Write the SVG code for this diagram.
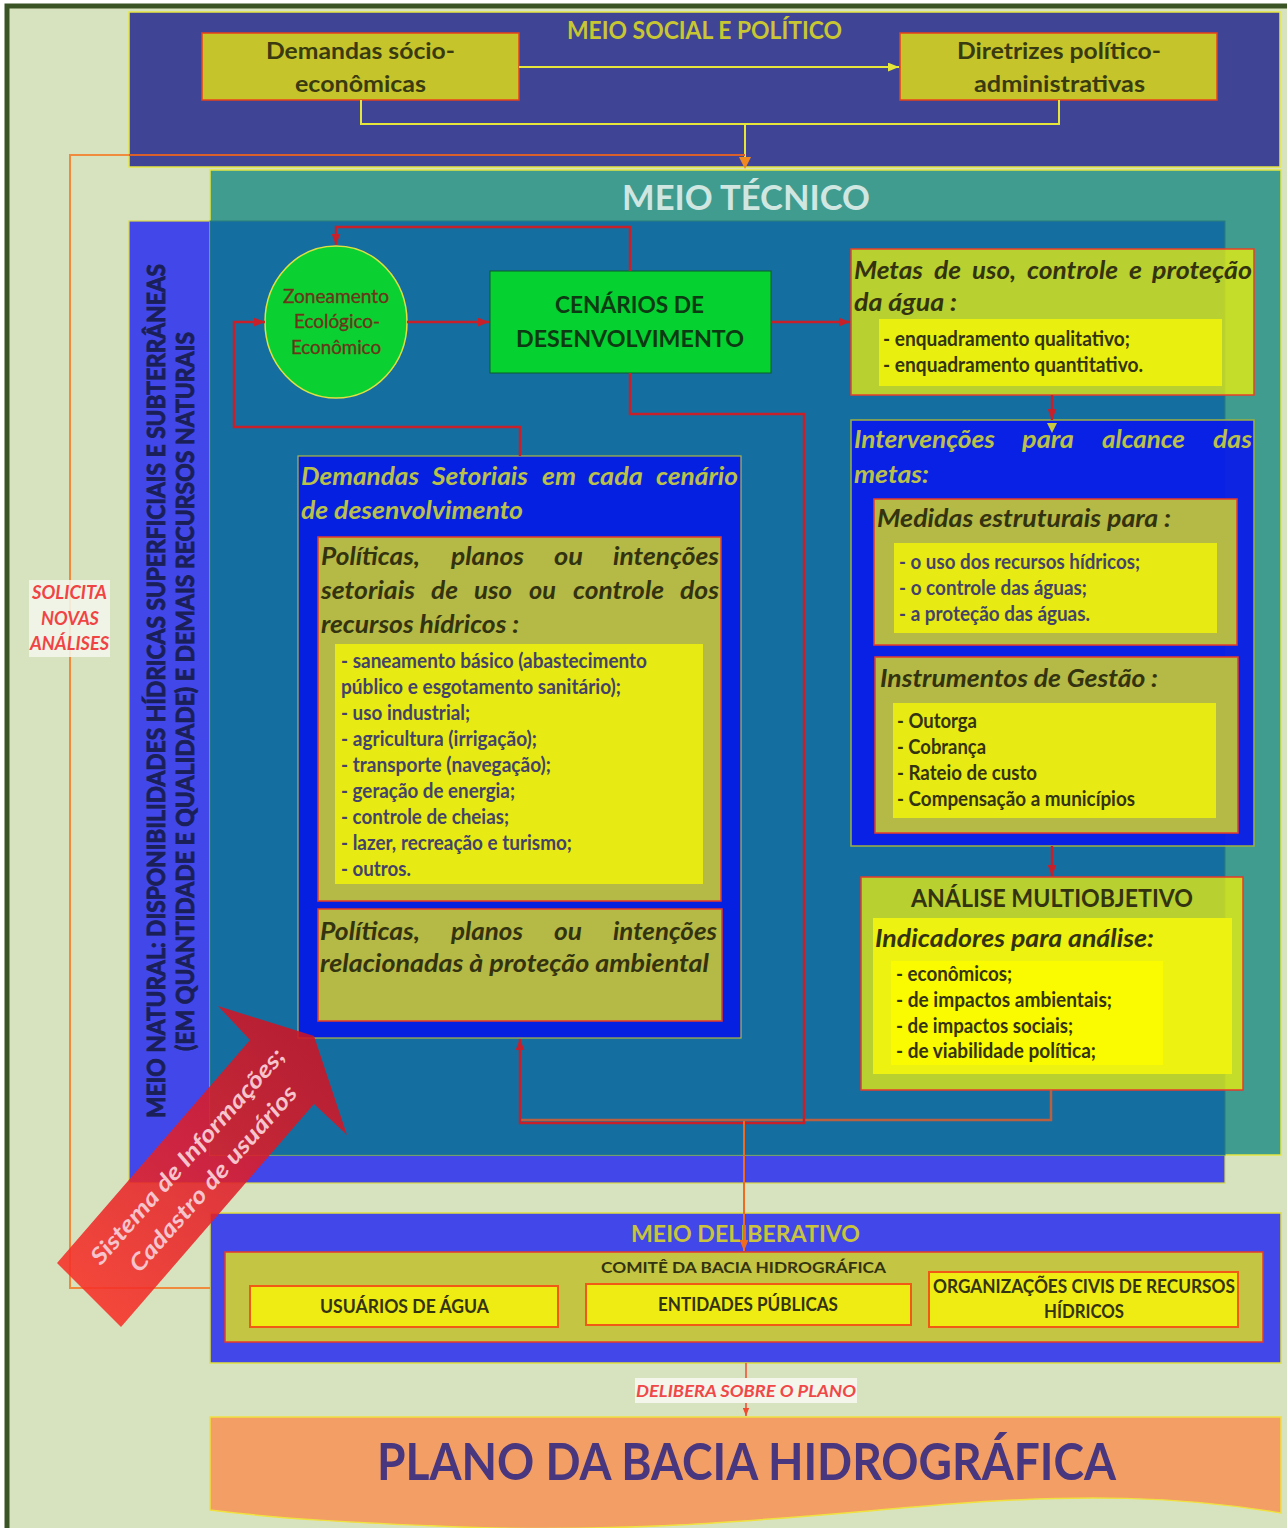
<svg xmlns="http://www.w3.org/2000/svg" width="1287" height="1528" viewBox="0 0 1287 1528">
<defs>
<style>
text{font-family:Lato,'Open Sans','Liberation Sans',sans-serif;}
.b{font-weight:700}
.i{font-style:italic}
.dk{fill:#33330f}
.sl{fill:#43436a}
.ttl{font-size:25px;font-weight:700;font-style:italic}
.li{font-size:20px;font-weight:700}
.yt{fill:#bac04a}
.ol{fill:#b5b945;stroke:#e83a2a;stroke-width:1.5}
.yl{fill:#e8ea14}
.red{stroke:#c8202a;stroke-width:2.5;fill:none}
.vt{font-size:24px;font-weight:700;fill:#1a1f58;stroke:#1a1f58;stroke-width:0.9}
</style>
<marker id="mr" viewBox="0 0 10 8" refX="10" refY="4" markerWidth="11" markerHeight="9" markerUnits="userSpaceOnUse" orient="auto"><path d="M0,0L10,4L0,8z" fill="#c8202a"/></marker>
<marker id="my" viewBox="0 0 10 8" refX="10" refY="4" markerWidth="11" markerHeight="9" markerUnits="userSpaceOnUse" orient="auto"><path d="M0,0L10,4L0,8z" fill="#e6e63a"/></marker>
<marker id="mo" viewBox="0 0 10 8" refX="10" refY="4" markerWidth="11" markerHeight="9" markerUnits="userSpaceOnUse" orient="auto"><path d="M0,0L10,4L0,8z" fill="#f06a20"/></marker>
<marker id="mo2" viewBox="0 0 10 8" refX="10" refY="4" markerWidth="8" markerHeight="7" markerUnits="userSpaceOnUse" orient="auto"><path d="M0,0L10,4L0,8z" fill="#f04a30"/></marker>
<linearGradient id="ga" gradientUnits="userSpaceOnUse" x1="314" y1="1036" x2="90" y2="1295">
<stop offset="0" stop-color="#cd1323"/>
<stop offset="0.5" stop-color="#e0202a"/>
<stop offset="1" stop-color="#f73128"/>
</linearGradient>
</defs>

<rect x="7" y="6" width="1290" height="1535" fill="#d7e3bf" stroke="#3a5425" stroke-width="5"/>

<g id="meio-social">
<rect x="129" y="12" width="1151" height="155" fill="#404494" stroke="#e6e640" stroke-width="1.5"/>
<text x="567" y="39" class="b" font-size="25" fill="#c9c731" textLength="275" lengthAdjust="spacingAndGlyphs">MEIO SOCIAL E POLÍTICO</text>
</g>

<g id="meio-natural">
<rect x="129" y="221" width="1096" height="962" fill="#4147e8" stroke="#d8d848" stroke-width="1.2"/>
</g>

<g id="meio-tecnico">
<rect x="210" y="170" width="1071" height="985" fill="#3f9c8f" stroke="#e6e640" stroke-width="1.5"/>
<rect x="210" y="221" width="1015" height="934" fill="#146ea0" stroke="#2a7f7a" stroke-width="1"/>
<text x="622" y="210" class="b" font-size="35" fill="#cfe6e1" textLength="248" lengthAdjust="spacingAndGlyphs">MEIO TÉCNICO</text>
</g>

<g id="meio-natural-label">
<text transform="translate(165,1118) rotate(-90)" class="vt" textLength="854" lengthAdjust="spacingAndGlyphs">MEIO NATURAL: DISPONIBILIDADES HÍDRICAS SUPERFICIAIS E SUBTERRÂNEAS</text>
<text transform="translate(194,1051) rotate(-90)" class="vt" textLength="719" lengthAdjust="spacingAndGlyphs">(EM QUANTIDADE E QUALIDADE) E DEMAIS RECURSOS NATURAIS</text>
</g>

<g id="demandas-socio">
<rect x="202" y="33" width="317" height="67" fill="#c5c52b" stroke="#e8401a" stroke-width="1.5"/>
<text x="266" y="59" class="b" font-size="23" fill="#3a3a10" textLength="189" lengthAdjust="spacingAndGlyphs">Demandas sócio-</text>
<text x="295" y="92" class="b" font-size="23" fill="#3a3a10" textLength="131" lengthAdjust="spacingAndGlyphs">econômicas</text>
</g>

<g id="diretrizes">
<rect x="900" y="33" width="317" height="67" fill="#c5c52b" stroke="#e8401a" stroke-width="1.5"/>
<text x="957" y="59" class="b" font-size="23" fill="#3a3a10" textLength="204" lengthAdjust="spacingAndGlyphs">Diretrizes político-</text>
<text x="974" y="92" class="b" font-size="23" fill="#3a3a10" textLength="171" lengthAdjust="spacingAndGlyphs">administrativas</text>
</g>

<g id="zoneamento">
<ellipse cx="336" cy="322" rx="71" ry="76" fill="#0ad131" stroke="#e0e040" stroke-width="1.5"/>
<text x="283" y="303" font-size="18.5" fill="#6b351a" stroke="#6b351a" stroke-width="0.3" textLength="106" lengthAdjust="spacingAndGlyphs">Zoneamento</text>
<text x="294" y="328" font-size="18.5" fill="#6b351a" stroke="#6b351a" stroke-width="0.3" textLength="86" lengthAdjust="spacingAndGlyphs">Ecológico-</text>
<text x="291" y="354" font-size="18.5" fill="#6b351a" stroke="#6b351a" stroke-width="0.3" textLength="90" lengthAdjust="spacingAndGlyphs">Econômico</text>
</g>

<g id="cenarios">
<rect x="490" y="271" width="281" height="102" fill="#05d131" stroke="#0f5a2a" stroke-width="1"/>
<text x="555" y="313" class="b" font-size="22" fill="#0c3a12" textLength="149" lengthAdjust="spacingAndGlyphs">CENÁRIOS DE</text>
<text x="516" y="347" class="b" font-size="22" fill="#0c3a12" textLength="228" lengthAdjust="spacingAndGlyphs">DESENVOLVIMENTO</text>
</g>

<g id="metas">
<rect x="851" y="249" width="403" height="146" fill="#fef900" fill-opacity="0.7" stroke="#e8402a" stroke-width="1.5"/>
<text x="854" y="279" class="ttl dk" textLength="69" lengthAdjust="spacingAndGlyphs">Metas</text>
<text x="934" y="279" class="ttl dk" textLength="27" lengthAdjust="spacingAndGlyphs">de</text>
<text x="972" y="279" class="ttl dk" textLength="44" lengthAdjust="spacingAndGlyphs">uso,</text>
<text x="1027" y="279" class="ttl dk" textLength="91" lengthAdjust="spacingAndGlyphs">controle</text>
<text x="1129" y="279" class="ttl dk" textLength="13" lengthAdjust="spacingAndGlyphs">e</text>
<text x="1152" y="279" class="ttl dk" textLength="100" lengthAdjust="spacingAndGlyphs">proteção</text>
<text x="854" y="311" class="ttl dk" textLength="103" lengthAdjust="spacingAndGlyphs">da água :</text>
<rect x="879" y="319" width="343" height="67" fill="#e9f010"/>
<text x="883" y="346" class="li dk" textLength="247" lengthAdjust="spacingAndGlyphs">- enquadramento qualitativo;</text>
<text x="883" y="372" class="li dk" textLength="260" lengthAdjust="spacingAndGlyphs">- enquadramento quantitativo.</text>
</g>

<g id="intervencoes">
<rect x="851" y="420" width="403" height="426" fill="#0818ec" fill-opacity="0.9" stroke="#a0b040" stroke-width="1.5"/>
<text x="854" y="448" class="ttl yt" textLength="141" lengthAdjust="spacingAndGlyphs">Intervenções</text>
<text x="1022" y="448" class="ttl yt" textLength="52" lengthAdjust="spacingAndGlyphs">para</text>
<text x="1102" y="448" class="ttl yt" textLength="83" lengthAdjust="spacingAndGlyphs">alcance</text>
<text x="1213" y="448" class="ttl yt" textLength="39" lengthAdjust="spacingAndGlyphs">das</text>
<text x="854" y="483" class="ttl yt" textLength="75" lengthAdjust="spacingAndGlyphs">metas:</text>
</g>

<g id="medidas">
<rect x="874" y="499" width="363" height="146" class="ol"/>
<text x="877" y="527" class="ttl dk" textLength="294" lengthAdjust="spacingAndGlyphs">Medidas estruturais para :</text>
<rect x="894" y="543" width="323" height="90" class="yl"/>
<text x="899" y="569" class="li sl" textLength="241" lengthAdjust="spacingAndGlyphs">- o uso dos recursos hídricos;</text>
<text x="899" y="595" class="li sl" textLength="188" lengthAdjust="spacingAndGlyphs">- o controle das águas;</text>
<text x="899" y="621" class="li sl" textLength="191" lengthAdjust="spacingAndGlyphs">- a proteção das águas.</text>
</g>

<g id="instrumentos">
<rect x="875" y="657" width="363" height="176" class="ol"/>
<text x="880" y="687" class="ttl dk" textLength="278" lengthAdjust="spacingAndGlyphs">Instrumentos de Gestão :</text>
<rect x="893" y="703" width="323" height="115" class="yl"/>
<text x="897" y="728" class="li dk" textLength="80" lengthAdjust="spacingAndGlyphs">- Outorga</text>
<text x="897" y="754" class="li dk" textLength="89" lengthAdjust="spacingAndGlyphs">- Cobrança</text>
<text x="897" y="780" class="li dk" textLength="140" lengthAdjust="spacingAndGlyphs">- Rateio de custo</text>
<text x="897" y="806" class="li dk" textLength="238" lengthAdjust="spacingAndGlyphs">- Compensação a municípios</text>
</g>

<g id="analise">
<rect x="861" y="877" width="382" height="213" fill="#fef900" fill-opacity="0.7" stroke="#e83a2a" stroke-width="1.5"/>
<text x="911" y="907" class="b dk" font-size="24" textLength="282" lengthAdjust="spacingAndGlyphs">ANÁLISE MULTIOBJETIVO</text>
<rect x="873" y="918" width="359" height="156" fill="#eef210"/>
<text x="875" y="947" class="ttl dk" textLength="279" lengthAdjust="spacingAndGlyphs">Indicadores para análise:</text>
<rect x="891" y="961" width="272" height="104" fill="#fafa00"/>
<text x="896" y="981" class="li dk" textLength="116" lengthAdjust="spacingAndGlyphs">- econômicos;</text>
<text x="896" y="1007" class="li dk" textLength="216" lengthAdjust="spacingAndGlyphs">- de impactos ambientais;</text>
<text x="896" y="1033" class="li dk" textLength="177" lengthAdjust="spacingAndGlyphs">- de impactos sociais;</text>
<text x="896" y="1058" class="li dk" textLength="200" lengthAdjust="spacingAndGlyphs">- de viabilidade política;</text>
</g>

<g id="demandas-setoriais">
<rect x="298" y="456" width="443" height="582" fill="#0620e2" stroke="#b0b840" stroke-width="1.2"/>
<text x="301" y="485" class="ttl yt" textLength="118" lengthAdjust="spacingAndGlyphs">Demandas</text>
<text x="432" y="485" class="ttl yt" textLength="96" lengthAdjust="spacingAndGlyphs">Setoriais</text>
<text x="542" y="485" class="ttl yt" textLength="34" lengthAdjust="spacingAndGlyphs">em</text>
<text x="588" y="485" class="ttl yt" textLength="55" lengthAdjust="spacingAndGlyphs">cada</text>
<text x="656" y="485" class="ttl yt" textLength="82" lengthAdjust="spacingAndGlyphs">cenário</text>
<text x="301" y="519" class="ttl yt" textLength="222" lengthAdjust="spacingAndGlyphs">de desenvolvimento</text>
</g>

<g id="politicas-setoriais">
<rect x="318" y="537" width="403" height="364" class="ol"/>
<text x="321" y="565" class="ttl dk" textLength="99" lengthAdjust="spacingAndGlyphs">Políticas,</text>
<text x="451" y="565" class="ttl dk" textLength="73" lengthAdjust="spacingAndGlyphs">planos</text>
<text x="554" y="565" class="ttl dk" textLength="29" lengthAdjust="spacingAndGlyphs">ou</text>
<text x="613" y="565" class="ttl dk" textLength="106" lengthAdjust="spacingAndGlyphs">intenções</text>
<text x="321" y="599" class="ttl dk" textLength="94" lengthAdjust="spacingAndGlyphs">setoriais</text>
<text x="431" y="599" class="ttl dk" textLength="27" lengthAdjust="spacingAndGlyphs">de</text>
<text x="474" y="599" class="ttl dk" textLength="38" lengthAdjust="spacingAndGlyphs">uso</text>
<text x="529" y="599" class="ttl dk" textLength="27" lengthAdjust="spacingAndGlyphs">ou</text>
<text x="573" y="599" class="ttl dk" textLength="91" lengthAdjust="spacingAndGlyphs">controle</text>
<text x="680" y="599" class="ttl dk" textLength="39" lengthAdjust="spacingAndGlyphs">dos</text>
<text x="321" y="633" class="ttl dk" textLength="198" lengthAdjust="spacingAndGlyphs">recursos hídricos :</text>
<rect x="335" y="644" width="368" height="240" class="yl"/>
<text x="341" y="668" class="li sl" textLength="306" lengthAdjust="spacingAndGlyphs">- saneamento básico (abastecimento</text>
<text x="341" y="694" class="li sl" textLength="280" lengthAdjust="spacingAndGlyphs">público e esgotamento sanitário);</text>
<text x="341" y="720" class="li sl" textLength="129" lengthAdjust="spacingAndGlyphs">- uso industrial;</text>
<text x="341" y="746" class="li sl" textLength="196" lengthAdjust="spacingAndGlyphs">- agricultura (irrigação);</text>
<text x="341" y="772" class="li sl" textLength="210" lengthAdjust="spacingAndGlyphs">- transporte (navegação);</text>
<text x="341" y="798" class="li sl" textLength="174" lengthAdjust="spacingAndGlyphs">- geração de energia;</text>
<text x="341" y="824" class="li sl" textLength="168" lengthAdjust="spacingAndGlyphs">- controle de cheias;</text>
<text x="341" y="850" class="li sl" textLength="231" lengthAdjust="spacingAndGlyphs">- lazer, recreação e turismo;</text>
<text x="341" y="876" class="li sl" textLength="70" lengthAdjust="spacingAndGlyphs">- outros.</text>
</g>

<g id="politicas-ambientais">
<rect x="318" y="909" width="404" height="112" class="ol"/>
<text x="320" y="940" class="ttl dk" textLength="100" lengthAdjust="spacingAndGlyphs">Políticas,</text>
<text x="451" y="940" class="ttl dk" textLength="72" lengthAdjust="spacingAndGlyphs">planos</text>
<text x="554" y="940" class="ttl dk" textLength="28" lengthAdjust="spacingAndGlyphs">ou</text>
<text x="613" y="940" class="ttl dk" textLength="104" lengthAdjust="spacingAndGlyphs">intenções</text>
<text x="320" y="972" class="ttl dk" textLength="389" lengthAdjust="spacingAndGlyphs">relacionadas à proteção ambiental</text>
</g>

<g id="meio-deliberativo">
<rect x="210" y="1213" width="1071" height="150" fill="#4147e8" stroke="#e0e040" stroke-width="1.5"/>
<text x="631" y="1242" class="b" font-size="23" fill="#c9c43c" textLength="229" lengthAdjust="spacingAndGlyphs">MEIO DELIBERATIVO</text>
<rect x="225" y="1252" width="1038" height="90" fill="#c5c544" stroke="#e83a2a" stroke-width="1.5"/>
<text x="601" y="1273" class="b" font-size="16" fill="#33330f" textLength="285" lengthAdjust="spacingAndGlyphs">COMITÊ DA BACIA HIDROGRÁFICA</text>
</g>

<g id="usuarios">
<rect x="250" y="1286" width="308" height="41" fill="#efec14" stroke="#f05a14" stroke-width="2"/>
<text x="320" y="1313" class="b" font-size="19" fill="#33330f" textLength="169" lengthAdjust="spacingAndGlyphs">USUÁRIOS DE ÁGUA</text>
</g>
<g id="entidades">
<rect x="586" y="1284" width="325" height="41" fill="#efec14" stroke="#f05a14" stroke-width="2"/>
<text x="658" y="1311" class="b" font-size="19" fill="#33330f" textLength="180" lengthAdjust="spacingAndGlyphs">ENTIDADES PÚBLICAS</text>
</g>
<g id="organizacoes">
<rect x="929" y="1272" width="309" height="55" fill="#efec14" stroke="#f05a14" stroke-width="2"/>
<text x="933" y="1293" class="b" font-size="18.5" fill="#33330f" textLength="302" lengthAdjust="spacingAndGlyphs">ORGANIZAÇÕES CIVIS DE RECURSOS</text>
<text x="1044" y="1318" class="b" font-size="18.5" fill="#33330f" textLength="80" lengthAdjust="spacingAndGlyphs">HÍDRICOS</text>
</g>

<g id="plano">
<path d="M210,1417 H1281 V1513 C1180,1496 1080,1494 950,1504 C800,1516 650,1534 460,1527 C360,1523 280,1519 210,1510 Z" fill="#f29e64" stroke="#f0e040" stroke-width="1.5"/>
<text x="377" y="1480" class="b" font-size="51" fill="#48367e" textLength="739" lengthAdjust="spacingAndGlyphs">PLANO DA BACIA HIDROGRÁFICA</text>
</g>

<g id="connectors">
<path d="M519,67 H899" stroke="#e6e63a" stroke-width="2" fill="none" marker-end="url(#my)"/>
<path d="M361,100 V124 H1059 V100" stroke="#e6e63a" stroke-width="2" fill="none"/>
<path d="M745,124 V160" stroke="#e6e63a" stroke-width="2" fill="none"/>
<path d="M745,155 H70 V1288 H210" stroke="#f08a3c" stroke-width="2" fill="none"/>
<path d="M745,155 H129" stroke="#d9602a" stroke-width="2" fill="none"/>
<polygon points="739,157 751,157 745,169" fill="#f08a20"/>
<path d="M630,271 V227 H336 V245" class="red" marker-end="url(#mr)"/>
<path d="M407,322 H489" class="red" marker-end="url(#mr)"/>
<path d="M771,322 H850" class="red" marker-end="url(#mr)"/>
<path d="M520,456 V427 H234 V322 H265" class="red" marker-end="url(#mr)"/>
<path d="M1051,1090 V1120 H520" stroke="#b86040" stroke-width="2.5" fill="none"/>
<path d="M630,373 V414 H804 V1123 H520 V1039" class="red" marker-end="url(#mr)"/>
<path d="M1052,395 V420" class="red" marker-end="url(#mr)"/>
<polygon points="1047,423 1057,423 1052,433" fill="#c8c840"/>
<path d="M1052,846 V876" class="red" marker-end="url(#mr)"/>
<path d="M744,1121 V1251" stroke="#f06a20" stroke-width="2" fill="none" marker-end="url(#mo)"/>
<path d="M746,1363 V1416" stroke="#f04a30" stroke-width="1.5" fill="none" marker-end="url(#mo2)"/>
</g>

<g id="sistema-informacoes">
<polygon points="314,1036 347,1135 314,1104 121,1327 57,1263 250,1040 218,1006" fill="url(#ga)" fill-opacity="0.88"/>
<g transform="translate(201,1168) rotate(-48.5)">
<text x="0" y="-10" text-anchor="middle" class="b i" font-size="23" fill="#f6c4cc" textLength="280" lengthAdjust="spacingAndGlyphs">Sistema de Informações;</text>
<text x="0" y="24" text-anchor="middle" class="b i" font-size="23" fill="#f6c4cc" textLength="240" lengthAdjust="spacingAndGlyphs">Cadastro de usuários</text>
</g>
</g>

<g id="label-solicita">
<rect x="29" y="580" width="81" height="77" fill="#f4f6ec" fill-opacity="0.88"/>
<text x="32" y="599" class="b i" font-size="19" fill="#f04444" textLength="75" lengthAdjust="spacingAndGlyphs">SOLICITA</text>
<text x="41" y="625" class="b i" font-size="19" fill="#f04444" textLength="58" lengthAdjust="spacingAndGlyphs">NOVAS</text>
<text x="30" y="650" class="b i" font-size="19" fill="#f04444" textLength="79" lengthAdjust="spacingAndGlyphs">ANÁLISES</text>
</g>

<g id="label-delibera">
<rect x="635" y="1378" width="222" height="25" fill="#f4f6ec"/>
<text x="636" y="1397" class="b i" font-size="17" fill="#f04848" textLength="220" lengthAdjust="spacingAndGlyphs">DELIBERA SOBRE O PLANO</text>
</g>
</svg>
